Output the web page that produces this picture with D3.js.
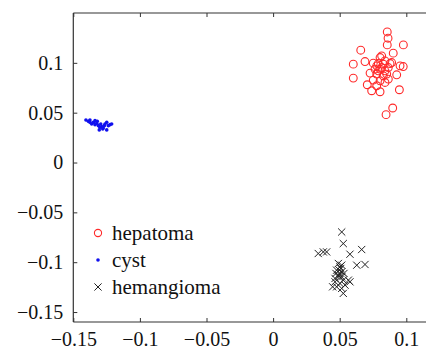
<!DOCTYPE html>
<html><head><meta charset="utf-8">
<script src="https://cdn.jsdelivr.net/npm/d3@7"></script>
<style>html,body{margin:0;padding:0;background:#fff;overflow:hidden}</style>
</head><body>
<svg id="c" width="426" height="349"></svg>
<script>
const hepatomaX = [0.0857,0.0863,0.0857,0.0978,0.0658,0.0902,0.0815,0.0602,0.069,0.0752,0.079,0.084,0.089,0.0953,0.0977,0.0803,0.084,0.0728,0.0928,0.0602,0.0778,0.0827,0.0752,0.0803,0.0865,0.0707,0.0778,0.084,0.074,0.0803,0.0948,0.0898,0.0848,0.0803,0.0827,0.0865,0.0778,0.0815,0.079,0.0853,0.0765,0.0878];
const hepatomaY = [0.131,0.1247,0.118,0.118,0.1127,0.1097,0.107,0.0987,0.1013,0.0997,0.0993,0.102,0.1003,0.097,0.0963,0.0937,0.092,0.0897,0.088,0.0847,0.0887,0.087,0.0827,0.082,0.0837,0.078,0.077,0.0803,0.072,0.071,0.073,0.0547,0.048,0.1053,0.0987,0.0953,0.097,0.0953,0.092,0.0887,0.0937,0.0993];
const cystX = [-0.1405,-0.1387,-0.1375,-0.1375,-0.1362,-0.135,-0.1337,-0.1337,-0.1324,-0.132,-0.1312,-0.13,-0.1294,-0.1287,-0.1279,-0.1275,-0.1267,-0.1262,-0.1249,-0.1249,-0.1237,-0.1224,-0.1212,-0.1305];
const cystY = [0.0427,0.0413,0.0427,0.0403,0.0387,0.0403,0.042,0.038,0.0393,0.0413,0.037,0.0353,0.0387,0.036,0.0337,0.0347,0.037,0.0387,0.0403,0.0327,0.037,0.038,0.0387,0.0327];
const hemangiomaX = [0.0515,0.0527,0.0339,0.0377,0.0402,0.0577,0.0665,0.0628,0.069,0.049,0.0502,0.0477,0.0515,0.049,0.0465,0.0527,0.0502,0.0477,0.0465,0.054,0.0577,0.0515,0.0527,0.049,0.0515,0.0502,0.0497,0.0508,0.0515,0.0472,0.0532,0.0447,0.0565];
const hemangiomaY = [-0.0697,-0.0813,-0.0913,-0.0897,-0.0897,-0.092,-0.0873,-0.103,-0.1023,-0.1013,-0.1047,-0.108,-0.1097,-0.113,-0.1163,-0.118,-0.1213,-0.1247,-0.1197,-0.123,-0.1197,-0.1263,-0.1313,-0.1147,-0.1147,-0.1113,-0.108,-0.1063,-0.103,-0.1113,-0.1113,-0.1247,-0.118];
const xTicks = [-0.15,-0.1,-0.05,0,0.05,0.1];
const yTicks = [-0.15,-0.1,-0.05,0,0.05,0.1];
const xTickLabels = ["\u22120.15","\u22120.1","\u22120.05","0","0.05","0.1"];
const yTickLabels = ["\u22120.15","\u22120.1","\u22120.05","0","0.05","0.1"];
const seriesNames = ["hepatoma","cyst","hemangioma"];

const svg = d3.select("#c");
const L = 73.3, T = 13, B = 322;
const x = d3.scaleLinear().domain([-0.15, 0.12]).range([L, L + 0.27*1332]);
const y = d3.scaleLinear().domain([-0.16, 0.15]).range([B, T]);
const font = "'Liberation Serif','Times New Roman',serif";
const axisCol = "#333";

const g = svg.append("g");
g.append("line").attr("x1",L).attr("x2",L).attr("y1",T).attr("y2",B).attr("stroke",axisCol).attr("stroke-width",1.2);
g.append("line").attr("x1",L).attr("x2",440).attr("y1",B).attr("y2",B).attr("stroke",axisCol).attr("stroke-width",1.2);
g.append("line").attr("x1",L).attr("x2",440).attr("y1",T).attr("y2",T).attr("stroke",axisCol).attr("stroke-width",1.2);

const xa = svg.append("g").attr("transform",`translate(0,${B})`)
  .call(d3.axisBottom(x).tickValues(xTicks).tickSizeInner(-4).tickSizeOuter(0).tickPadding(12).tickFormat((d,i)=>xTickLabels[i]));
const xaTop = svg.append("g").attr("transform",`translate(0,${T})`)
  .call(d3.axisTop(x).tickValues(xTicks).tickSizeInner(-4).tickSizeOuter(0).tickFormat(""));
const ya = svg.append("g").attr("transform",`translate(${L},0)`)
  .call(d3.axisLeft(y).tickValues(yTicks).tickSizeInner(-4).tickSizeOuter(0).tickPadding(10).tickFormat((d,i)=>yTickLabels[i]));
[xa,xaTop,ya].forEach(a=>{a.select(".domain").remove(); a.selectAll(".tick line").attr("stroke",axisCol);});
svg.selectAll(".tick text").attr("font-family",font).attr("font-size",20).attr("fill","#111");
xa.selectAll(".tick text").attr("dy","0.6em");

const hep = hepatomaX.map((v,i)=>[v,hepatomaY[i]]);
const cyst = cystX.map((v,i)=>[v,cystY[i]]);
const hem = hemangiomaX.map((v,i)=>[v,hemangiomaY[i]]);
const red = "#ff2a2a", blue = "#1010ee", blk = "#222";

svg.append("g").selectAll("circle").data(hep).join("circle")
  .attr("cx",d=>x(d[0])).attr("cy",d=>y(d[1])).attr("r",3.9)
  .attr("fill","none").attr("stroke",red).attr("stroke-width",1.1);
svg.append("g").selectAll("circle").data(cyst).join("circle")
  .attr("cx",d=>x(d[0])).attr("cy",d=>y(d[1])).attr("r",1.8).attr("fill",blue);
const s = 3.6;
svg.append("g").selectAll("path").data(hem).join("path")
  .attr("d",d=>{const cx=x(d[0]),cy=y(d[1]);return `M${cx-s},${cy-s}L${cx+s},${cy+s}M${cx-s},${cy+s}L${cx+s},${cy-s}`;})
  .attr("stroke",blk).attr("stroke-width",1).attr("fill","none");

const lg = svg.append("g");
const ly = [233, 260, 287];
lg.append("circle").attr("cx",98).attr("cy",ly[0]).attr("r",3.6).attr("fill","none").attr("stroke",red).attr("stroke-width",1.1);
lg.append("circle").attr("cx",98).attr("cy",ly[1]).attr("r",1.8).attr("fill",blue);
lg.append("path").attr("d",`M${98-s},${ly[2]-s}L${98+s},${ly[2]+s}M${98-s},${ly[2]+s}L${98+s},${ly[2]-s}`).attr("stroke",blk).attr("stroke-width",1);
lg.selectAll("text").data(seriesNames).join("text")
  .attr("x",112).attr("y",(d,i)=>ly[i]).attr("dy","0.32em")
  .attr("font-family",font).attr("font-size",21).attr("fill","#111").text(d=>d);
</script>
</body></html>
